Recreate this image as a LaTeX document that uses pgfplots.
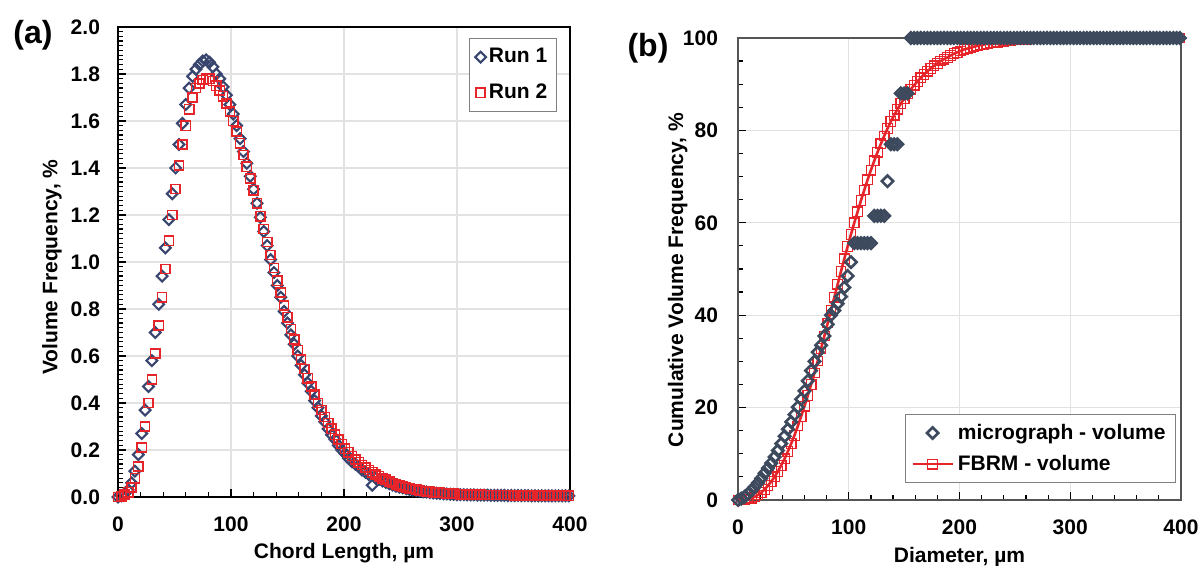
\documentclass[border=0pt]{standalone}
\usepackage{fontspec}
\setmainfont{Liberation Sans}
\usepackage{pgfplots}
\pgfplotsset{compat=1.18}
\usepackage{pgfplotstable}
\definecolor{navy}{HTML}{38456E}
\definecolor{slate}{HTML}{3D4A5E}
\definecolor{rred}{HTML}{E6252A}
\definecolor{gridc}{HTML}{E2E2E2}
\definecolor{frameb}{HTML}{555555}

\pgfplotstableread{
x r1 r2
0 0.000 0.000
3 0.005 0.003
6 0.015 0.010
9 0.030 0.020
12 0.060 0.040
15 0.110 0.080
18 0.180 0.130
21 0.270 0.210
24 0.370 0.300
27 0.470 0.400
30 0.580 0.500
33 0.700 0.610
36 0.820 0.730
39 0.940 0.850
42 1.060 0.970
45 1.180 1.090
48 1.290 1.200
51 1.400 1.310
54 1.500 1.410
57 1.590 1.500
60 1.670 1.580
63 1.740 1.650
66 1.790 1.700
69 1.820 1.740
72 1.840 1.760
75 1.855 1.775
78 1.860 1.780
81 1.850 1.780
84 1.830 1.770
87 1.800 1.750
90 1.780 1.730
93 1.745 1.705
96 1.710 1.675
99 1.670 1.640
102 1.630 1.600
105 1.580 1.555
108 1.525 1.505
111 1.470 1.455
114 1.420 1.405
117 1.365 1.355
120 1.310 1.305
123 1.250 1.250
126 1.190 1.195
129 1.130 1.140
132 1.070 1.085
135 1.010 1.030
138 0.955 0.975
141 0.900 0.920
144 0.850 0.870
147 0.790 0.815
150 0.740 0.765
153 0.690 0.715
156 0.650 0.670
159 0.600 0.625
162 0.560 0.585
165 0.520 0.545
168 0.485 0.505
171 0.450 0.470
174 0.410 0.435
177 0.380 0.400
180 0.345 0.370
183 0.320 0.340
186 0.290 0.315
189 0.265 0.290
192 0.245 0.265
195 0.220 0.245
198 0.200 0.225
201 0.185 0.205
204 0.165 0.190
207 0.150 0.175
210 0.140 0.160
213 0.130 0.148
216 0.115 0.136
219 0.105 0.125
222 0.095 0.115
225 0.050 0.105
228 0.080 0.096
231 0.075 0.088
234 0.068 0.080
237 0.062 0.073
240 0.056 0.066
243 0.051 0.060
246 0.046 0.054
249 0.042 0.049
252 0.039 0.045
255 0.035 0.041
258 0.032 0.037
261 0.029 0.034
264 0.027 0.031
267 0.025 0.028
270 0.022 0.026
273 0.021 0.024
276 0.019 0.022
279 0.017 0.020
282 0.016 0.019
285 0.015 0.018
288 0.014 0.017
291 0.013 0.016
294 0.012 0.015
297 0.011 0.014
300 0.010 0.013
303 0.010 0.012
306 0.010 0.012
309 0.009 0.011
312 0.009 0.011
315 0.009 0.010
318 0.008 0.010
321 0.008 0.010
324 0.008 0.009
327 0.008 0.009
330 0.007 0.009
333 0.007 0.009
336 0.007 0.008
339 0.007 0.008
342 0.007 0.008
345 0.006 0.008
348 0.006 0.008
351 0.006 0.007
354 0.006 0.007
357 0.006 0.007
360 0.006 0.007
363 0.006 0.007
366 0.005 0.007
369 0.005 0.006
372 0.005 0.006
375 0.005 0.006
378 0.005 0.006
381 0.005 0.006
384 0.005 0.006
387 0.005 0.006
390 0.005 0.006
393 0.005 0.005
396 0.005 0.005
399 0.005 0.005
}\tabA

\pgfplotstableread{
x micro fbrm
0 0.0 0.00
3 0.3 0.02
6 0.7 0.08
9 1.3 0.2
12 2.0 0.4
15 2.8 0.7
18 3.7 1.1
21 4.7 1.6
24 5.8 2.3
27 6.9 3.1
30 8.0 4.0
33 9.3 5.0
36 10.7 6.2
39 12.2 7.5
42 13.8 8.9
45 15.3 10.5
48 16.9 12.2
51 18.5 14.0
54 20.1 16.0
57 21.8 18.1
60 23.6 20.3
63 25.8 22.6
66 28.0 25.0
69 30.0 27.5
72 32.0 30.1
75 33.5 32.8
78 35.5 35.5
81 38.0 38.3
84 40.0 41.1
87 41.0 43.9
90 42.5 46.7
93 44.0 49.5
96 46.0 52.2
99 48.5 54.9
102 51.5 57.5
105 55.6 60.0
108 55.6 62.4
111 55.6 64.8
114 55.6 67.1
117 55.6 69.3
120 55.6 71.4
123 61.5 73.4
126 61.5 75.3
129 61.5 77.1
132 61.5 78.8
135 69.0 80.4
138 77.0 81.9
141 77.0 83.3
144 77.0 84.6
147 88.0 85.8
150 88.0 86.9
153 88.0 87.9
156 100 88.9
159 100 89.8
162 100 90.6
165 100 91.4
168 100 92.1
171 100 92.8
174 100 93.4
177 100 94.0
180 100 94.5
183 100 95.0
186 100 95.4
189 100 95.8
192 100 96.2
195 100 96.6
198 100 96.9
201 100 97.2
204 100 97.5
207 100 97.7
210 100 97.9
213 100 98.1
216 100 98.3
219 100 98.5
222 100 98.6
225 100 98.8
228 100 98.9
231 100 99.0
234 100 99.1
237 100 99.2
240 100 99.3
243 100 99.4
246 100 99.5
249 100 99.55
252 100 99.6
255 100 99.65
258 100 99.7
261 100 99.75
264 100 99.8
267 100 99.85
270 100 99.9
273 100 99.9
276 100 99.92
279 100 99.94
282 100 99.95
285 100 99.96
288 100 99.97
291 100 99.98
294 100 99.99
297 100 100
300 100 100
303 100 100
306 100 100
309 100 100
312 100 100
315 100 100
318 100 100
321 100 100
324 100 100
327 100 100
330 100 100
333 100 100
336 100 100
339 100 100
342 100 100
345 100 100
348 100 100
351 100 100
354 100 100
357 100 100
360 100 100
363 100 100
366 100 100
369 100 100
372 100 100
375 100 100
378 100 100
381 100 100
384 100 100
387 100 100
390 100 100
393 100 100
396 100 100
399 100 100
}\tabB

\newcommand{\chfont}{\fontsize{10.5}{12.6}\selectfont\bfseries}

\begin{document}
\begin{tikzpicture}[x=1pt,y=1pt]
\useasboundingbox (0,0) rectangle (601.5,283);
\pgfplotsset{common/.style={
  scale only axis, clip=false,
  font=\chfont,
  /pgf/number format/assume math mode=true,
  tick align=inside, xtick pos=bottom, ytick pos=left,
  major tick length=4pt, minor tick length=2.5pt,
  xmajorgrids, ymajorgrids,
  major grid style={gridc, line width=0.6pt},
  every tick/.style={black, line width=0.6pt},
  xmin=0, xmax=400, xtick={0,100,200,300,400}, minor x tick num=4,
  label style={font=\chfont},
  tick label style={font=\chfont},
  xticklabel style={yshift=-6.5pt},
  legend cell align=left,
  legend image code/.code={\draw[mark repeat=2,mark phase=2] plot coordinates {(0cm,0cm) (0.35cm,0cm) (0.7cm,0cm)};},
}}
% ---------- (a) ----------
\begin{axis}[common,
  at={(59pt,34.5pt)}, anchor=south west, width=226pt, height=235pt,
  ymin=0, ymax=2, ytick={0,0.2,0.4,0.6,0.8,1.0,1.2,1.4,1.6,1.8,2.0}, minor y tick num=9,
  yticklabel style={/pgf/number format/.cd, fixed, fixed zerofill, precision=1, /tikz/.cd, xshift=-5.5pt},
  axis line style={black, line width=0.8pt},
  xlabel={Chord Length, µm},
  xlabel style={at={(axis description cs:0.5,-0.119)}, anchor=center},
  ylabel={Volume Frequency, \%},
  ylabel style={at={(axis description cs:-0.146,0.489)}, anchor=center},
  legend image code/.code={\draw[mark repeat=2,mark phase=2] plot coordinates {(0cm,0cm) (0.08cm,0cm) (0.16cm,0cm)};},
  legend style={at={(axis description cs:0.971,0.977)}, anchor=north east,
    draw=gray, line width=0.6pt, font=\chfont, row sep=5pt, inner xsep=3pt, inner ysep=3pt,
    nodes={inner xsep=1.5pt}},
]
\addplot[only marks, mark=square, mark size=1.9pt, mark options={rotate=45, draw=navy, line width=1.05pt}] table[x=x,y=r1]{\tabA};
\addlegendentry{Run 1}
\addplot[only marks, mark=square, mark size=2.3pt, mark options={draw=rred, line width=0.75pt}] table[x=x,y=r2]{\tabA};
\addlegendentry{Run 2}
\end{axis}
\node[font=\fontsize{16}{19}\selectfont\bfseries] at (16.5,265.5) {(a)};

% ---------- (b) ----------
\begin{axis}[common,
  at={(369pt,33pt)}, anchor=south west, width=221.5pt, height=231pt,
  ymin=0, ymax=100, ytick={0,20,40,60,80,100}, minor y tick num=3,
  yticklabel style={xshift=-6.5pt},
  axis line style={frameb, line width=1pt},
  xlabel={Diameter, µm},
  xlabel style={at={(axis description cs:0.5,-0.123)}, anchor=center},
  ylabel={Cumulative Volume Frequency, \%},
  ylabel style={at={(axis description cs:-0.136,0.476)}, anchor=center},
  reverse legend,
  legend style={at={(axis description cs:0.989,0.037)}, anchor=south east,
    draw=gray, line width=0.6pt, font=\chfont, row sep=2.5pt, inner xsep=3pt, inner ysep=2.5pt},
]
\addplot[rred, line width=1.3pt, mark=square, mark size=2.4pt, mark options={line width=0.6pt, draw=rred}] table[x=x,y=fbrm]{\tabB};
\addlegendentry{FBRM - volume}
\addplot[only marks, mark=square, mark size=2pt, mark options={rotate=45, draw=slate, line width=1.3pt}] table[x=x,y=micro]{\tabB};
\addlegendentry{micrograph - volume}
\end{axis}
\node[font=\fontsize{16}{19}\selectfont\bfseries] at (324,259) {(b)};
\end{tikzpicture}
\end{document}
